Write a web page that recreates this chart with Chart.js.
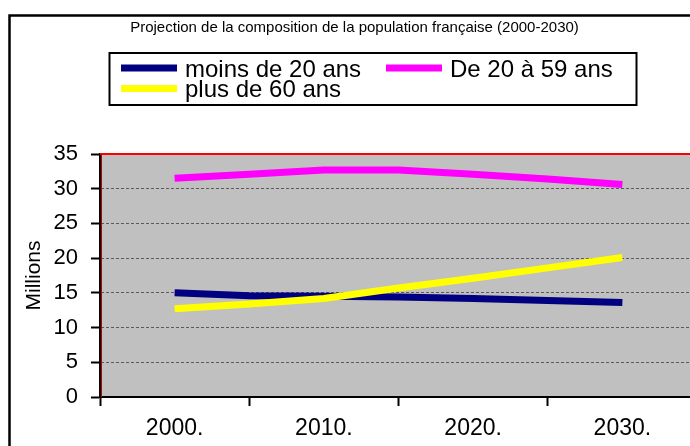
<!DOCTYPE html>
<html>
<head>
<meta charset="utf-8">
<script src="https://cdn.jsdelivr.net/npm/chart.js@4/dist/chart.umd.min.js"></script>
<style>
  html, body { margin: 0; padding: 0; background: #fff; overflow: hidden; }
  #wrap { width: 690px; height: 446px; overflow: hidden; position: relative; }
  #box { width: 720px; height: 446px; position: absolute; left: 0; top: 0; }
</style>
</head>
<body>
<div id="wrap"><div id="box"><canvas id="myChart"></canvas></div></div>
<script>
// years of the projection (points every 5 years, labels every 10)
const years = [2000, 2005, 2010, 2015, 2020, 2025, 2030];
const moins20 = [15.0, 14.6, 14.5, 14.4, 14.2, 13.9, 13.6];
const de20a59 = [31.5, 32.1, 32.7, 32.7, 32.1, 31.4, 30.6];
const plus60 = [12.7, 13.4, 14.2, 15.7, 17.1, 18.6, 20.1];
const seriesNames = ['moins de 20 ans', 'De 20 à 59 ans', 'plus de 60 ans'];
const seriesColors = ['#000080', '#FF00FF', '#FFFF00'];
const titleText = 'Projection de la composition de la population française (2000-2030)';

const FONT = "'Liberation Sans', Arial, sans-serif";
Chart.defaults.font.family = FONT;
Chart.defaults.color = '#000';

function toPoints(values) {
    return values.map((v, i) => ({x: years[i], y: v}));
}

// white page, outer frame and grey plot area
const backdrop = {
    id: 'backdrop',
    beforeDraw(chart) {
        const ctx = chart.ctx;
        const a = chart.chartArea;
        ctx.save();
        ctx.fillStyle = '#fff';
        ctx.fillRect(0, 0, chart.width, chart.height);
        ctx.strokeStyle = '#000';
        ctx.lineWidth = 2.5;
        ctx.strokeRect(9.5, 15.5, chart.width + 40, chart.height + 40);
        ctx.fillStyle = '#C0C0C0';
        ctx.fillRect(a.left, a.top, a.right - a.left, a.bottom - a.top);
        ctx.restore();
    },
    beforeDatasetsDraw(chart) {
        const ctx = chart.ctx;
        const a = chart.chartArea;
        ctx.save();
        ctx.strokeStyle = '#FF0000';
        ctx.lineWidth = 2;
        ctx.beginPath();
        ctx.moveTo(a.left, a.top);
        ctx.lineTo(a.right, a.top);
        ctx.stroke();
        ctx.lineWidth = 1;
        ctx.strokeStyle = '#C00000';
        ctx.beginPath();
        ctx.moveTo(a.left + 1.5, a.top);
        ctx.lineTo(a.left + 1.5, a.bottom);
        ctx.stroke();
        ctx.restore();
    }
};

// boxed legend, two rows like the original
const boxLegend = {
    id: 'boxLegend',
    afterDraw(chart) {
        const ctx = chart.ctx;
        const slots = [[121, 68], [386, 68], [121, 88.5]];
        ctx.save();
        ctx.strokeStyle = '#000';
        ctx.lineWidth = 2;
        ctx.strokeRect(109.5, 53, 527, 52);
        ctx.font = '24px ' + FONT;
        ctx.textBaseline = 'middle';
        ctx.fillStyle = '#000';
        chart.data.datasets.forEach((ds, i) => {
            const [x, y] = slots[i];
            ctx.fillStyle = ds.borderColor;
            ctx.fillRect(x, y - 3.5, 56, 7);
            ctx.fillStyle = '#000';
            ctx.fillText(ds.label, x + 64, y + 2);
        });
        ctx.restore();
    }
};

const ctx = document.getElementById('myChart').getContext('2d');
const myChart = new Chart(ctx, {
    type: 'line',
    data: {
        datasets: [
            {label: seriesNames[0], data: toPoints(moins20), borderColor: seriesColors[0], backgroundColor: seriesColors[0], order: 2},
            {label: seriesNames[1], data: toPoints(de20a59), borderColor: seriesColors[1], backgroundColor: seriesColors[1], order: 1},
            {label: seriesNames[2], data: toPoints(plus60), borderColor: seriesColors[2], backgroundColor: seriesColors[2], order: 0}
        ]
    },
    options: {
        responsive: true,
        maintainAspectRatio: false,
        animation: false,
        devicePixelRatio: 1,
        layout: {padding: {left: 12, right: 23, top: 0, bottom: 0}},
        elements: {
            line: {borderWidth: 7, tension: 0, borderCapStyle: 'butt'},
            point: {radius: 0, hoverRadius: 0}
        },
        plugins: {
            legend: {display: false},
            tooltip: {enabled: false},
            title: {
                display: true,
                text: titleText,
                color: '#000',
                font: {size: 15, weight: 'normal'},
                padding: {top: 19, bottom: 117}
            }
        },
        scales: {
            x: {
                type: 'linear',
                min: 1995,
                max: 2035,
                afterFit: (s) => { s.height = 49; },
                ticks: {
                    stepSize: 5,
                    autoSkip: false,
                    maxRotation: 0,
                    padding: 9,
                    font: {size: 23},
                    callback: (v) => (v % 10 === 0 ? v + '.' : '')
                },
                grid: {
                    drawOnChartArea: false,
                    tickLength: 9,
                    tickWidth: 2,
                    tickColor: (c) => (c.tick && c.tick.value % 10 === 5 ? '#000' : 'rgba(0,0,0,0)')
                },
                border: {color: '#000', width: 2}
            },
            y: {
                min: 0,
                max: 35,
                afterFit: (s) => { s.width = 88; },
                ticks: {stepSize: 5, padding: 13, font: {size: 22}},
                title: {
                    display: true,
                    text: 'Millions',
                    font: {size: 21},
                    padding: {top: 10}
                },
                grid: {
                    color: (c) => (c.tick && (c.tick.value === 35 || c.tick.value === 0) ? 'rgba(0,0,0,0)' : '#5a5a5a'),
                    lineWidth: 1,
                    tickLength: 9,
                    tickWidth: 2,
                    tickColor: '#000',
                    tickBorderDash: []
                },
                border: {color: '#000', width: 2, dash: [3, 2]}
            }
        }
    },
    plugins: [backdrop, boxLegend]
});
</script>
</body>
</html>
